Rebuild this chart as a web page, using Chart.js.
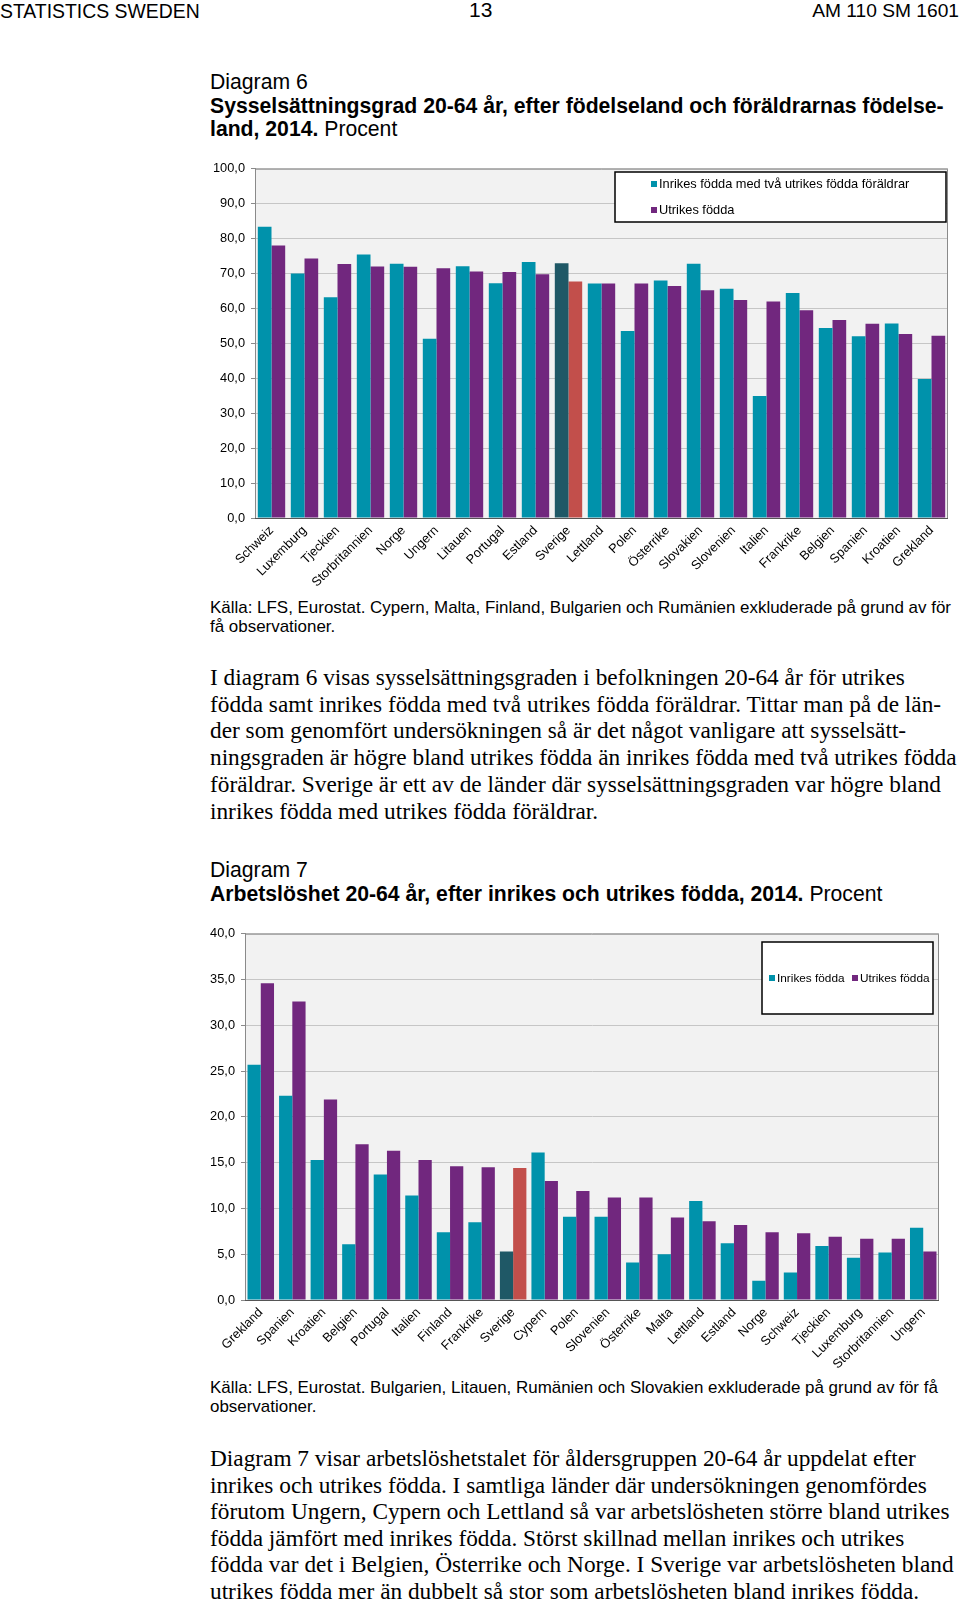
<!DOCTYPE html>
<html><head><meta charset="utf-8">
<script src="https://cdn.jsdelivr.net/npm/chart.js@4"></script>
<style>
html,body{margin:0;padding:0;background:#fff;}
body{width:960px;height:1603px;position:relative;overflow:hidden;}
.t{position:absolute;white-space:nowrap;color:#000;margin:0;}
.sans{font-family:"Liberation Sans",Arial,sans-serif;}
.serif{font-family:"Liberation Serif","Times New Roman",serif;}
canvas{position:absolute;}
</style></head><body>

<div class="t sans" style="left:0;top:0;font-size:19.4px;line-height:22px;">STATISTICS SWEDEN</div>
<div class="t sans" style="left:469px;top:-1px;font-size:21px;line-height:22px;">13</div>
<div class="t sans" style="right:1px;top:0;font-size:19.2px;line-height:22px;">AM 110 SM 1601</div>

<div class="t sans" style="left:210px;top:70px;font-size:21.2px;line-height:23.5px;">Diagram 6<br><b>Sysselsättningsgrad 20-64 år, efter födelseland och föräldrarnas födelse-</b><br><b>land, 2014.</b> Procent</div>

<canvas id="c1" width="760" height="438" style="left:200px;top:155px;width:760px;height:438px;"></canvas>

<div class="t sans" style="left:210px;top:598px;font-size:16.95px;line-height:19.4px;">Källa: LFS, Eurostat. Cypern, Malta, Finland, Bulgarien och Rumänien exkluderade på grund av för<br>få observationer.</div>

<div class="t serif" style="left:210px;top:664px;font-size:23.3px;line-height:26.7px;">I diagram 6 visas sysselsättningsgraden i befolkningen 20-64 år för utrikes<br>födda samt inrikes födda med två utrikes födda föräldrar. Tittar man på de län-<br>der som genomfört undersökningen så är det något vanligare att sysselsätt-<br>ningsgraden är högre bland utrikes födda än inrikes födda med två utrikes födda<br>föräldrar. Sverige är ett av de länder där sysselsättningsgraden var högre bland<br>inrikes födda med utrikes födda föräldrar.</div>

<div class="t sans" style="left:210px;top:858px;font-size:21.2px;line-height:24px;">Diagram 7<br><b>Arbetslöshet 20-64 år, efter inrikes och utrikes födda, 2014.</b> Procent</div>

<canvas id="c2" width="770" height="455" style="left:190px;top:920px;width:770px;height:455px;"></canvas>

<div class="t sans" style="left:210px;top:1378px;font-size:16.95px;line-height:19.4px;">Källa: LFS, Eurostat. Bulgarien, Litauen, Rumänien och Slovakien exkluderade på grund av för få<br>observationer.</div>

<div class="t serif" style="left:210px;top:1445px;font-size:23.3px;line-height:26.6px;">Diagram 7 visar arbetslöshetstalet för åldersgruppen 20-64 år uppdelat efter<br>inrikes och utrikes födda. I samtliga länder där undersökningen genomfördes<br>förutom Ungern, Cypern och Lettland så var arbetslösheten större bland utrikes<br>födda jämfört med inrikes födda. Störst skillnad mellan inrikes och utrikes<br>födda var det i Belgien, Österrike och Norge. I Sverige var arbetslösheten bland<br>utrikes födda mer än dubbelt så stor som arbetslösheten bland inrikes födda.</div>

<script>
// ---------- Data: Diagram 6 ----------
const categories6 = ['Schweiz','Luxemburg','Tjeckien','Storbritannien','Norge','Ungern','Litauen','Portugal','Estland','Sverige','Lettland','Polen','Österrike','Slovakien','Slovenien','Italien','Frankrike','Belgien','Spanien','Kroatien','Grekland'];
const inrikes6 = [83.4,70.0,63.2,75.4,72.8,51.3,72.1,67.2,73.3,72.9,67.1,53.5,68.0,72.8,65.6,34.9,64.4,54.4,52.0,55.7,39.8];
const utrikes6 = [78.0,74.3,72.7,72.0,71.9,71.5,70.6,70.4,69.8,67.7,67.1,67.1,66.4,65.2,62.4,62.0,59.5,56.7,55.6,52.7,52.2];
const series6Labels = ['Inrikes födda med två utrikes födda föräldrar','Utrikes födda'];
const yTicks6 = [0,10,20,30,40,50,60,70,80,90,100];

// ---------- Data: Diagram 7 ----------
const categories7 = ['Grekland','Spanien','Kroatien','Belgien','Portugal','Italien','Finland','Frankrike','Sverige','Cypern','Polen','Slovenien','Österrike','Malta','Lettland','Estland','Norge','Schweiz','Tjeckien','Luxemburg','Storbritannien','Ungern'];
const inrikes7 = [25.7,22.3,15.3,6.1,13.7,11.4,7.4,8.5,5.3,16.1,9.1,9.1,4.1,5.0,10.8,6.2,2.1,3.0,5.9,4.6,5.2,7.9];
const utrikes7 = [34.6,32.6,21.9,17.0,16.3,15.3,14.6,14.5,14.4,13.0,11.9,11.2,11.2,9.0,8.6,8.2,7.4,7.3,6.9,6.7,6.7,5.3];
const series7Labels = ['Inrikes födda','Utrikes födda'];
const yTicks7 = [0,5,10,15,20,25,30,35,40];

const highlight = 'Sverige';
const TEAL = '#0092AB', PURPLE = '#71277E', TEAL_HL = '#1F5866', PURPLE_HL = '#C24F4B';

Chart.defaults.font.family = '"Liberation Sans", Arial, sans-serif';
Chart.defaults.color = '#000';

const plotFrame = {
  id:'plotFrame',
  beforeDraw(chart){
    const {ctx, chartArea:a} = chart;
    ctx.save(); ctx.fillStyle='#f2f2f2';
    ctx.fillRect(a.left,a.top,a.right-a.left,a.bottom-a.top); ctx.restore();
  },
  afterDraw(chart){
    const {ctx, chartArea:a} = chart;
    ctx.save(); ctx.strokeStyle='#8a8a8a'; ctx.lineWidth=1;
    ctx.beginPath();
    ctx.moveTo(a.left,a.top+0.5); ctx.lineTo(a.right-0.5,a.top+0.5); ctx.lineTo(a.right-0.5,a.bottom);
    ctx.stroke();
    ctx.strokeStyle='#555';
    ctx.beginPath(); ctx.moveTo(a.left,a.bottom+0.5); ctx.lineTo(a.right,a.bottom+0.5); ctx.stroke();
    ctx.restore();
    const o = chart.options.plugins.boxLegend;
    if(!o) return;
    ctx.save();
    ctx.fillStyle='#fff'; ctx.fillRect(o.x,o.y,o.w,o.h);
    ctx.strokeStyle='#000'; ctx.lineWidth=1.5; ctx.strokeRect(o.x,o.y,o.w,o.h);
    ctx.font = o.fontSize+'px "Liberation Sans", Arial, sans-serif';
    ctx.textBaseline='middle';
    chart.data.datasets.forEach((ds,i)=>{
      const it = o.items[i];
      ctx.fillStyle = ds.legendColor;
      ctx.fillRect(it.x, it.y-3, 6, 6);
      ctx.fillStyle = '#000';
      ctx.fillText(ds.label, it.x+8, it.y+0.5);
    });
    ctx.restore();
  }
};

function fmt(v){ return v.toFixed(1).replace('.',','); }

function makeChart(id, cats, a, b, labels, ticks, max, pad, legend, catPct){
  return new Chart(document.getElementById(id), {
    type:'bar',
    data:{
      labels:cats,
      datasets:[
        {label:labels[0], data:a, legendColor:TEAL, backgroundColor:cats.map(c=>c===highlight?TEAL_HL:TEAL), borderWidth:0, categoryPercentage:catPct, barPercentage:1},
        {label:labels[1], data:b, legendColor:PURPLE, backgroundColor:cats.map(c=>c===highlight?PURPLE_HL:PURPLE), borderWidth:0, categoryPercentage:catPct, barPercentage:1}
      ]
    },
    options:{
      responsive:false, animation:false, devicePixelRatio:1,
      layout:{padding:pad},
      plugins:{legend:{display:false}, tooltip:{enabled:false}, boxLegend:legend},
      scales:{
        x:{
          grid:{display:false, drawTicks:false},
          border:{display:false},
          ticks:{autoSkip:false, maxRotation:45, minRotation:45, padding:5, color:'#000', font:{size:12.8}},
          afterFit(s){ s.height = 75; }
        },
        y:{
          min:0, max:max,
          afterBuildTicks(s){ s.ticks = ticks.map(v=>({value:v})); },
          grid:{color:'#c6c6c6', lineWidth:1, tickLength:4, tickColor:'#8a8a8a'},
          border:{display:true, color:'#8a8a8a', width:1},
          ticks:{padding:6, color:'#000', font:{size:12.8}, callback:(v)=>fmt(v)},
          afterFit(s){ s.width = 55; }
        }
      }
    },
    plugins:[plotFrame]
  });
}

makeChart('c1', categories6, inrikes6, utrikes6, series6Labels, yTicks6, 100,
  {top:12,right:12,left:0,bottom:0},
  {x:415, y:17, w:331, h:50, fontSize:12.8, items:[{x:451,y:29},{x:451,y:55}]}, 0.83);

makeChart('c2', categories7, inrikes7, utrikes7, series7Labels, yTicks7, 40,
  {top:12,right:21,left:0,bottom:0},
  {x:572, y:22, w:171, h:72, fontSize:11.8, items:[{x:579,y:58},{x:662,y:58}]}, 0.84);
</script>
</body></html>
